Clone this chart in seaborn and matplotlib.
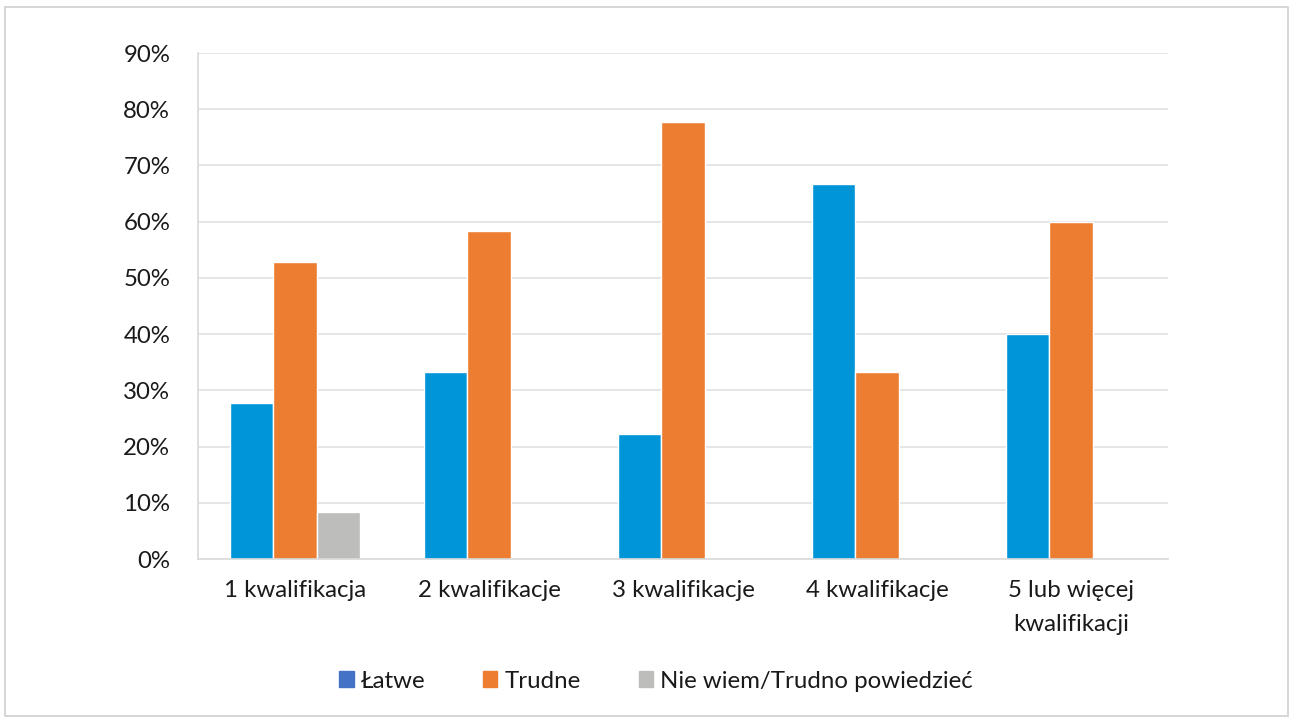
import matplotlib
matplotlib.use("Agg")
import matplotlib.pyplot as plt
import matplotlib.patches as mpatches
import seaborn as sns
import pandas as pd

categories = ["1 kwalifikacja", "2 kwalifikacje", "3 kwalifikacje", "4 kwalifikacje", "5 lub więcej\nkwalifikacji"]
series = ["Łatwe", "Trudne", "Nie wiem/Trudno powiedzieć"]
latwe = [0.278, 0.333, 0.222, 0.667, 0.40]
trudne = [0.528, 0.583, 0.778, 0.333, 0.60]
nie_wiem = [0.083, 0.0, 0.0, 0.0, 0.0]
yticks = [0, 0.1, 0.2, 0.3, 0.4, 0.5, 0.6, 0.7, 0.8, 0.9]

bar_colors = ["#0095D6", "#ED7D31", "#BDBDBB"]
legend_colors = ["#4472C4", "#ED7D31", "#BDBDBB"]

rows = []
for s, vals in zip(series, [latwe, trudne, nie_wiem]):
    for c, v in zip(categories, vals):
        rows.append({"cat": c, "series": s, "value": v})
df = pd.DataFrame(rows)

sns.set_theme(style="white")
plt.rcParams["font.family"] = ["Lato", "DejaVu Sans"]
plt.rcParams["text.color"] = "#1a1a1a"
FS = 17.3

fig = plt.figure(figsize=(12.9, 7.18), dpi=100)
ax = fig.add_axes([198/1290, 1-559/718, (1168-198)/1290, (559-53)/718])

sns.barplot(data=df, x="cat", y="value", hue="series", order=categories,
            hue_order=series, palette=bar_colors, width=0.67, saturation=1,
            ax=ax, legend=False, errorbar=None)

ax.set_ylim(0, 0.9)
ax.set_xlim(-0.5, 4.5)
ax.set_yticks(yticks)
ax.set_yticklabels([f"{int(round(t*100))}%" for t in yticks], fontsize=FS, color="#1a1a1a")
ax.yaxis.grid(True, color="#E0E0E0", linewidth=1.2)
ax.set_axisbelow(True)
ax.set_xlabel("")
ax.set_ylabel("")

ax.set_xticks(range(len(categories)))
ax.set_xticklabels(categories, fontsize=FS, color="#1a1a1a", linespacing=1.75)
ax.set_xticks([i - 0.5 for i in range(len(categories) + 1)], minor=True)
ax.tick_params(axis="x", which="major", length=0, pad=15)
ax.tick_params(axis="x", which="minor", length=9, color="#D9D9D9", width=1.2)
ax.tick_params(axis="y", which="major", length=9, color="#E0E0E0", width=1.2, pad=11)

for side in ["top", "right"]:
    ax.spines[side].set_visible(False)
for side in ["left", "bottom"]:
    ax.spines[side].set_color("#D9D9D9")
    ax.spines[side].set_linewidth(1.2)

handles = [mpatches.Patch(color=c, label=s) for c, s in zip(legend_colors, series)]
fig.legend(handles=handles, loc="center", bbox_to_anchor=(656/1290, 1-681/718), ncol=3,
           frameon=False, fontsize=FS, handlelength=0.6, handleheight=0.6,
           handletextpad=0.3, columnspacing=2.4)

border = mpatches.Rectangle((5/1290, 2/718), 1283/1290, 709/718, transform=fig.transFigure,
                            fill=False, edgecolor="#D0D0D0", linewidth=1.2)
fig.patches.append(border)

fig.savefig("out.png", dpi=100, facecolor="white")
